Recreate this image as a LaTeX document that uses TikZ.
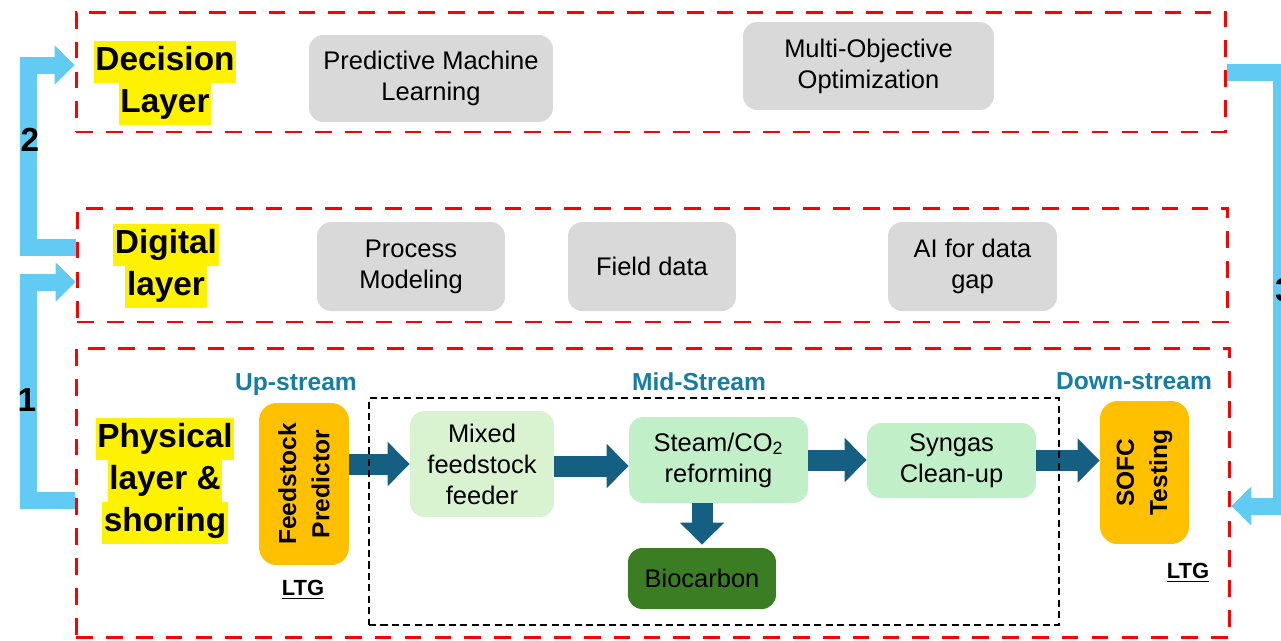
\documentclass[tikz,border=0pt]{standalone}
\usepackage{fontspec}
\setmainfont{Liberation Sans}
\usetikzlibrary{arrows.meta}
\definecolor{boxgray}{RGB}{217,217,217}
\definecolor{feedgreen}{RGB}{217,242,208}
\definecolor{procgreen}{RGB}{193,240,200}
\definecolor{biogreen}{RGB}{59,125,35}
\definecolor{ltgorange}{RGB}{255,192,0}
\definecolor{flowblue}{RGB}{21,96,130}
\definecolor{loopblue}{RGB}{97,203,243}
\definecolor{streamblue}{RGB}{22,125,165}
\setlength{\fboxsep}{0pt}
\newcommand{\hlt}[1]{\colorbox{yellow}{\strut\hspace{1pt}#1\hspace{1pt}}}
\tikzstyle{layerbox} = [rectangle, draw=red, line width=1.7pt,
    dash pattern=on 9.5pt off 7.5pt, inner sep=0pt]
\tikzstyle{title} = [align=center, inner sep=0pt,
    font=\fontsize{19}{23.8}\selectfont\bfseries]
\tikzstyle{tool} = [rectangle, fill=boxgray, rounded corners=8pt,
    align=center, font=\fontsize{14.5}{17.6}\selectfont]
\tikzstyle{unit} = [rectangle, rounded corners=8pt,
    align=center, font=\fontsize{14.5}{17.6}\selectfont]
\tikzstyle{ltgbox} = [rectangle, fill=ltgorange, rounded corners=10pt, rotate=90,
    align=center, font=\fontsize{14}{19}\selectfont\bfseries]
\tikzstyle{stream} = [text=streamblue, font=\fontsize{14}{17}\selectfont\bfseries]
\tikzstyle{mark ltg} = [font=\fontsize{12.5}{15}\selectfont\bfseries]
\tikzstyle{flowarrow} = [draw=flowblue, line width=0.42cm,
    -{Triangle[width=0.86cm,length=0.44cm]}]
\tikzstyle{feedback} = [draw=loopblue, line width=0.34cm,
    -{Triangle[width=0.76cm,length=0.4cm]}]
\tikzstyle{num} = [font=\fontsize{19}{23}\selectfont\bfseries]

\begin{document}
\begin{tikzpicture}[x=0.02cm, y=-0.02cm]
    \useasboundingbox (0,0) rectangle (1281,640);
    % Layers
    \node [layerbox, minimum width=23cm, minimum height=2.4cm] (deci) at (651,72) {};
    \node [layerbox, minimum width=23.02cm, minimum height=2.28cm] (digi) at (652.5,265) {};
    \node [layerbox, minimum width=23.08cm, minimum height=5.8cm] (phys) at (653,493) {};
    \node [title] (decititle) at (165,83) {\hlt{Decision}\\\hlt{Layer}};
    \node [title] (digititle) at (166,266) {\hlt{Digital}\\\hlt{layer}};
    \node [title] (physititle) at (165,481) {\hlt{Physical}\\\hlt{layer \&}\\\hlt{shoring}};
    % Decision and digital tools
    \node [tool, minimum width=4.88cm, minimum height=1.74cm] (pml) at (431,78.5) {Predictive Machine\\Learning};
    \node [tool, minimum width=5.02cm, minimum height=1.76cm] (moo) at (868.5,66) {Multi-Objective\\Optimization};
    \node [tool, minimum width=3.76cm, minimum height=1.78cm] (pmod) at (411,266.5) {Process\\Modeling};
    \node [tool, minimum width=3.36cm, minimum height=1.78cm] (field) at (652,266.5) {Field data};
    \node [tool, minimum width=3.38cm, minimum height=1.78cm] (aigap) at (972.5,266.5) {AI for data\\gap};
    % Physical chain
    \node [stream] (up) at (296,385) {Up-stream};
    \node [stream] (mid) at (699,382) {Mid-Stream};
    \node [stream] (down) at (1134,381) {Down-stream};
    \node [ltgbox, minimum width=3.24cm, minimum height=1.8cm] (fp) at (304,484) {Feedstock\\Predictor};
    \node [ltgbox, minimum width=2.86cm, minimum height=1.78cm] (sofc) at (1144.5,472.5) {SOFC\\Testing};
    \node [mark ltg] (ltga) at (303,590) {\underline{LTG}};
    \node [mark ltg] (ltgb) at (1188,573) {\underline{LTG}};
    \node [unit, fill=feedgreen, minimum width=2.88cm, minimum height=2.12cm] (mix) at (482,464) {Mixed\\feedstock\\feeder};
    \node [unit, fill=procgreen, minimum width=3.58cm, minimum height=1.72cm] (steam) at (718.5,460) {Steam/CO\textsubscript{2}\\reforming};
    \node [unit, fill=procgreen, minimum width=3.38cm, minimum height=1.5cm] (syn) at (951.5,460.5) {Syngas\\Clean-up};
    \node [unit, fill=biogreen, minimum width=2.96cm, minimum height=1.22cm] (bio) at (702,578.5) {Biocarbon};
    % Flow arrows (fp and sofc are turned: south is right, north is left)
    \draw [flowarrow] (fp.south |- mix.west) -- (mix.west);
    \draw [flowarrow] ([yshift=-0.04cm]mix.east) -- ([yshift=-0.04cm]mix.east -| steam.west);
    \draw [flowarrow] (steam.east) -- (steam.east -| syn.west);
    \draw [flowarrow] (syn.east) -- (syn.east -| sofc.north);
    \draw [flowarrow] (steam.south -| bio.north) -- ([yshift=0.06cm]bio.north);
    \node [rectangle, draw, dash pattern=on 4pt off 2.5pt, line width=1.1pt, minimum width=13.8cm, minimum height=4.54cm] (midbox) at (714,511.5) {};
    % Feedback arrows
    \draw [feedback] ([yshift=-0.14cm]phys.west) -- ++(-46,0) |- ([yshift=-0.34cm]digi.west);
    \draw [feedback] ([yshift=0.36cm]digi.west) -- ++(-47,0) |- ([yshift=0.14cm]deci.west);
    \draw [feedback] (deci.east) -- ++(54,0) |- ([yshift=-0.26cm]phys.east);
    \node [num] (one) at (27,400) {1};
    \node [num] (two) at (30,140) {2};
    \node [num, anchor=west] (three) at (1269,290) {3};
\end{tikzpicture}
\end{document}
